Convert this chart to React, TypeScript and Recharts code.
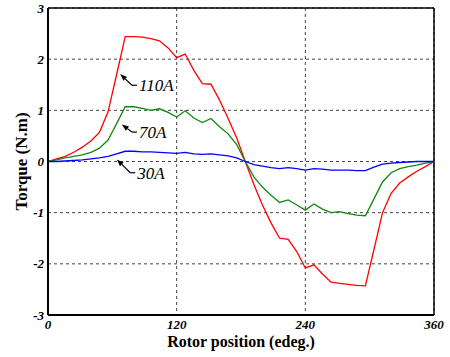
import {
  CartesianGrid,
  Line,
  LineChart,
  ReferenceLine,
  XAxis,
  YAxis,
} from 'recharts';

// rotor position, electrical degrees
const angles = [
  0, 8, 16, 24, 32, 40, 48, 56, 64, 72, 80, 88, 96, 104, 112, 120,
  128, 136, 144, 152, 160, 168, 176, 184, 192, 200, 208, 216, 224, 232, 240,
  248, 256, 264, 272, 280, 288, 296, 304, 312, 320, 328, 336, 344, 352, 360,
];

const torque110 = [
  0, 0.05, 0.1, 0.18, 0.28, 0.4, 0.57, 0.97, 1.7, 2.44, 2.44, 2.43, 2.4, 2.36, 2.22, 2.03,
  2.1, 1.78, 1.52, 1.51, 1.2, 0.84, 0.46, 0, -0.45, -0.85, -1.2, -1.5, -1.52, -1.76, -2.08,
  -2.02, -2.2, -2.36, -2.38, -2.4, -2.42, -2.43, -1.72, -1.0, -0.62, -0.42, -0.3, -0.19, -0.1, 0,
];

const torque70 = [
  0, 0.03, 0.07, 0.1, 0.13, 0.18, 0.26, 0.42, 0.74, 1.07, 1.07, 1.04, 1.0, 1.03, 0.96, 0.87,
  0.99, 0.85, 0.76, 0.84, 0.68, 0.54, 0.33, 0, -0.3, -0.5, -0.66, -0.8, -0.75, -0.85, -0.95,
  -0.83, -0.93, -1.0, -0.98, -1.02, -1.05, -1.06, -0.73, -0.4, -0.22, -0.14, -0.1, -0.07, -0.03, 0,
];

const torque30 = [
  0, 0, 0.01, 0.02, 0.03, 0.05, 0.07, 0.1, 0.15, 0.2, 0.2, 0.19, 0.19, 0.18, 0.17, 0.16,
  0.18, 0.15, 0.14, 0.15, 0.13, 0.11, 0.07, 0, -0.06, -0.09, -0.12, -0.14, -0.12, -0.14, -0.17,
  -0.14, -0.15, -0.17, -0.17, -0.17, -0.18, -0.18, -0.11, -0.05, -0.03, -0.02, -0.01, 0, 0, 0,
];

const xTicks = [0, 120, 240, 360];
const yTicks = [-3, -2, -1, 0, 1, 2, 3];

// curve labels: arrow head -> elbow, in data units
const callouts = [
  { text: '110A', head: [67.3, 1.71], elbow: [78.3, 1.49] },
  { text: '70A', head: [68.9, 0.725], elbow: [78.3, 0.575] },
  { text: '30A', head: [64.2, 0.04], elbow: [76.7, -0.22] },
];

const serif = '"Liberation Serif", "Times New Roman", "DejaVu Serif", serif';
const tickStyle = { fill: '#000', fontSize: 13, fontWeight: 700, fontStyle: 'italic', fontFamily: serif };

const data = angles.map((a, i) => ({
  angle: a,
  i110: torque110[i],
  i70: torque70[i],
  i30: torque30[i],
}));

function pointer(text: string) {
  return (props: any) => {
    const { x1, y1, x2, y2 } = props;
    const dx = x1 - x2;
    const dy = y1 - y2;
    const len = Math.sqrt(dx * dx + dy * dy) || 1;
    const ux = dx / len;
    const uy = dy / len;
    const bx = x1 - ux * 7;
    const by = y1 - uy * 7;
    const px = -uy * 2.6;
    const py = ux * 2.6;
    return (
      <g>
        <line x1={bx} y1={by} x2={x2} y2={y2} stroke="#000" strokeWidth={1.2} />
        <line x1={x2} y1={y2} x2={x2 + 5} y2={y2} stroke="#000" strokeWidth={1.2} />
        <polygon points={`${x1},${y1} ${bx + px},${by + py} ${bx - px},${by - py}`} fill="#000" />
        <text
          x={x2 + 7}
          y={y2 + 6}
          fontFamily={serif}
          fontStyle="italic"
          fontSize={17}
          fill="#000"
        >
          {text}
        </text>
      </g>
    );
  };
}

export default function App() {
  return (
    <div style={{ position: 'fixed', left: 0, top: 0, background: '#fff' }}>
      <LineChart width={450} height={357} data={data} margin={{ top: 8, right: 16, bottom: 0, left: 0 }}>
        <CartesianGrid strokeDasharray="3 3" stroke="#444" />
        <XAxis
          dataKey="angle"
          type="number"
          domain={[0, 360]}
          ticks={xTicks}
          height={42}
          tick={tickStyle}
          tickLine={false}
          tickSize={0}
          tickMargin={5}
          axisLine={{ stroke: '#000', strokeWidth: 2 }}
          label={{
            value: 'Rotor position (edeg.)',
            position: 'insideBottom',
            offset: 10,
            fill: '#000',
            fontSize: 16,
            fontWeight: 700,
            fontFamily: serif,
          }}
        />
        <YAxis
          type="number"
          domain={[-3, 3]}
          ticks={yTicks}
          width={48}
          tick={tickStyle}
          tickLine={false}
          tickSize={0}
          tickMargin={4}
          axisLine={{ stroke: '#000', strokeWidth: 2 }}
          label={{
            content: (p: any) => {
              const vb = p.viewBox;
              const cx = vb.x + 21;
              const cy = vb.y + vb.height / 2;
              return (
                <text
                  x={cx}
                  y={cy}
                  transform={`rotate(-90, ${cx}, ${cy})`}
                  textAnchor="middle"
                  dominantBaseline="central"
                  fontFamily={serif}
                  fontWeight={700}
                  fontSize={17}
                  fill="#000"
                >
                  Torque (N.m)
                </text>
              );
            },
          }}
        />
        <ReferenceLine y={3} stroke="#000" strokeWidth={1.5} />
        <ReferenceLine x={360} stroke="#000" strokeWidth={1.5} />
        <Line dataKey="i110" stroke="#ff0000" strokeWidth={1.3} dot={false} isAnimationActive={false} />
        <Line dataKey="i70" stroke="#118811" strokeWidth={1.3} dot={false} isAnimationActive={false} />
        <Line dataKey="i30" stroke="#0000ff" strokeWidth={1.3} dot={false} isAnimationActive={false} />
        {callouts.map((c) => (
          <ReferenceLine
            key={c.text}
            segment={[
              { x: c.head[0], y: c.head[1] },
              { x: c.elbow[0], y: c.elbow[1] },
            ]}
            shape={pointer(c.text)}
          />
        ))}
      </LineChart>
    </div>
  );
}
